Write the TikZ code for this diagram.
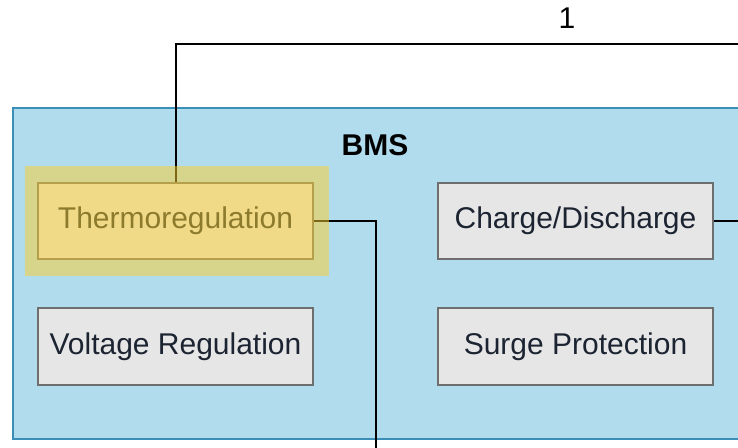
\documentclass[tikz,border=0pt]{standalone}
\usepackage{fontspec}
\setmainfont{Liberation Sans}
\usetikzlibrary{positioning}

\definecolor{bmsfill}{HTML}{B0DCEE}
\definecolor{bmsedge}{HTML}{3B8EB5}
\definecolor{boxfill}{HTML}{E6E6E6}
\definecolor{boxedge}{HTML}{6E6E6E}
\definecolor{marker}{HTML}{FCD02A}
\definecolor{inktext}{HTML}{1C2432}

\begin{document}
\begin{tikzpicture}[x=0.5pt,y=-0.5pt,
  unit/.style={draw=boxedge,fill=boxfill,line width=1pt,inner sep=0pt,
    minimum width=137.5pt,minimum height=38pt,text=inktext,
    font=\fontsize{15}{18}\selectfont},
  wire/.style={line width=1pt,black}]
\useasboundingbox (0,0) rectangle (738,448);
\clip (0,0) rectangle (738,448);
\fill[white] (0,0) rectangle (738,448);
\draw[fill=bmsfill,draw=bmsedge,line width=1pt] (13,108) rectangle (770,439);
\node[font=\bfseries\fontsize{15}{18}\selectfont] (title) at (375,145) {BMS};
\node[font=\fontsize{15}{18}\selectfont] (count) at (567,18) {1};

\node[unit] (thermo) at (175.5,221) {Thermoregulation};
\node[unit] (volt) at (175.5,346.5) {Voltage Regulation};
\node[unit] (charge) at (575.5,221) {Charge/Discharge};
\node[unit] (surge) at (575.5,346.5) {Surge Protection};

\coordinate (topend) at (738,44);
\coordinate (sideend) at (738,221);
\coordinate (lowend) at (376,448);

\draw[wire] (thermo.north) |- (topend);
\draw[wire] (thermo.east) -| (lowend);
\draw[wire] (charge.east) -- (sideend);

% marker highlight over the thermoregulation block
\fill[marker,fill opacity=0.5] (25,166) rectangle (329,276);
\end{tikzpicture}
\end{document}
